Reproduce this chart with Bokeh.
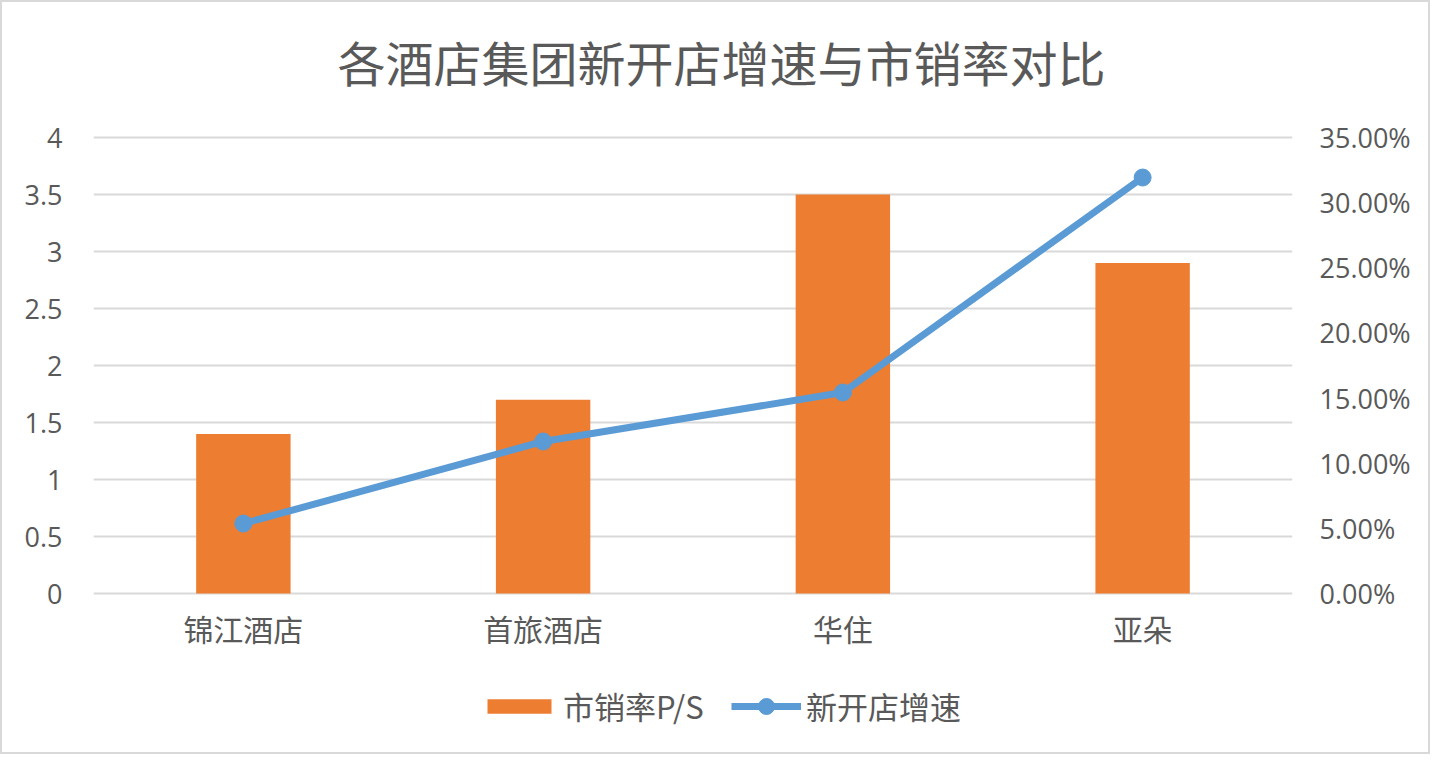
from bokeh.plotting import figure
from bokeh.models import (Range1d, LinearAxis, NumeralTickFormatter, FixedTicker,
                          Legend, LegendItem, ColumnDataSource, Label)
from bokeh.embed import file_html
from bokeh.resources import INLINE

title_text = "各酒店集团新开店增速与市销率对比"
categories = ["锦江酒店", "首旅酒店", "华住", "亚朵"]
ps_ratio = [1.4, 1.7, 3.5, 2.9]
store_growth = [0.0537, 0.1167, 0.1543, 0.3193]
left_ticks = [0, 0.5, 1, 1.5, 2, 2.5, 3, 3.5, 4]
right_ticks = [0, 0.05, 0.10, 0.15, 0.20, 0.25, 0.30, 0.35]

TXT = "#595959"
CJK = "Noto Sans CJK SC"
NUM = "Open Sans"

src = ColumnDataSource(dict(cat=categories, ps=ps_ratio, g=store_growth))

# frame spans almost the whole canvas; extra room above for the title and below for labels/legend
y_top = 5.009
y_bottom = -1.254
p = figure(x_range=categories, y_range=Range1d(y_bottom, y_top), width=1430, height=754,
           output_backend="svg", toolbar_location=None,
           min_border_left=91, min_border_right=140, min_border_top=20, min_border_bottom=20)
p.extra_y_ranges = {"pct": Range1d(y_bottom * 0.35 / 4, y_top * 0.35 / 4)}

p.outline_line_color = None
p.background_fill_color = "white"
p.border_fill_color = "white"
p.styles = {"border": "2px solid #d9d9d9", "box-sizing": "border-box"}

bars = p.vbar(x="cat", top="ps", width=0.315, source=src, color="#ED7D31", line_color=None)
ln = p.line(x="cat", y="g", source=src, y_range_name="pct", line_color="#5B9BD5", line_width=7)
pts = p.scatter(x="cat", y="g", source=src, y_range_name="pct", size=17,
                fill_color="#5B9BD5", line_color="#5B9BD5")

ya = p.yaxis[0]
ya.ticker = FixedTicker(ticks=left_ticks)
ya.formatter = NumeralTickFormatter(format="0.[0]")
ra = LinearAxis(y_range_name="pct", ticker=FixedTicker(ticks=right_ticks),
                formatter=NumeralTickFormatter(format="0.00%"))
p.add_layout(ra, "right")

for ax in [ya, ra]:
    ax.axis_line_color = None
    ax.major_tick_line_color = None
    ax.minor_tick_line_color = None
    ax.major_label_text_font = NUM
    ax.major_label_text_font_size = "27px"
    ax.major_label_text_color = TXT
ya.major_label_standoff = 25
ra.major_label_standoff = 21

xa = p.xaxis[0]
xa.fixed_location = 0
xa.axis_line_color = None
xa.major_tick_line_color = None
xa.minor_tick_line_color = None
xa.major_label_text_font = CJK
xa.major_label_text_font_size = "30px"
xa.major_label_text_color = TXT
xa.major_label_standoff = 6

p.xgrid.grid_line_color = None
p.ygrid.grid_line_color = "#D9D9D9"
p.ygrid.grid_line_width = 2
p.ygrid.ticker = FixedTicker(ticks=left_ticks)

title = Label(x=2.095, y=4.667, text=title_text, text_align="center", text_baseline="middle",
              text_font=CJK, text_font_size="48px", text_color=TXT)
p.add_layout(title)

common = dict(orientation="horizontal", padding=0, margin=0,
              label_text_font=CJK, label_text_font_size="31px", label_text_color=TXT,
              border_line_color=None, background_fill_alpha=0)
legend_bar = Legend(items=[LegendItem(label="市销率P/S", renderers=[bars])],
                    location=(386, 8), glyph_width=80, glyph_height=18, label_standoff=4,
                    **common)
legend_line = Legend(items=[LegendItem(label="新开店增速", renderers=[ln, pts])],
                     location=(638, 8), glyph_width=70, glyph_height=40, label_standoff=5,
                     **common)
p.add_layout(legend_bar, "center")
p.add_layout(legend_line, "center")

open("out.html", "w").write(file_html(p, INLINE))
